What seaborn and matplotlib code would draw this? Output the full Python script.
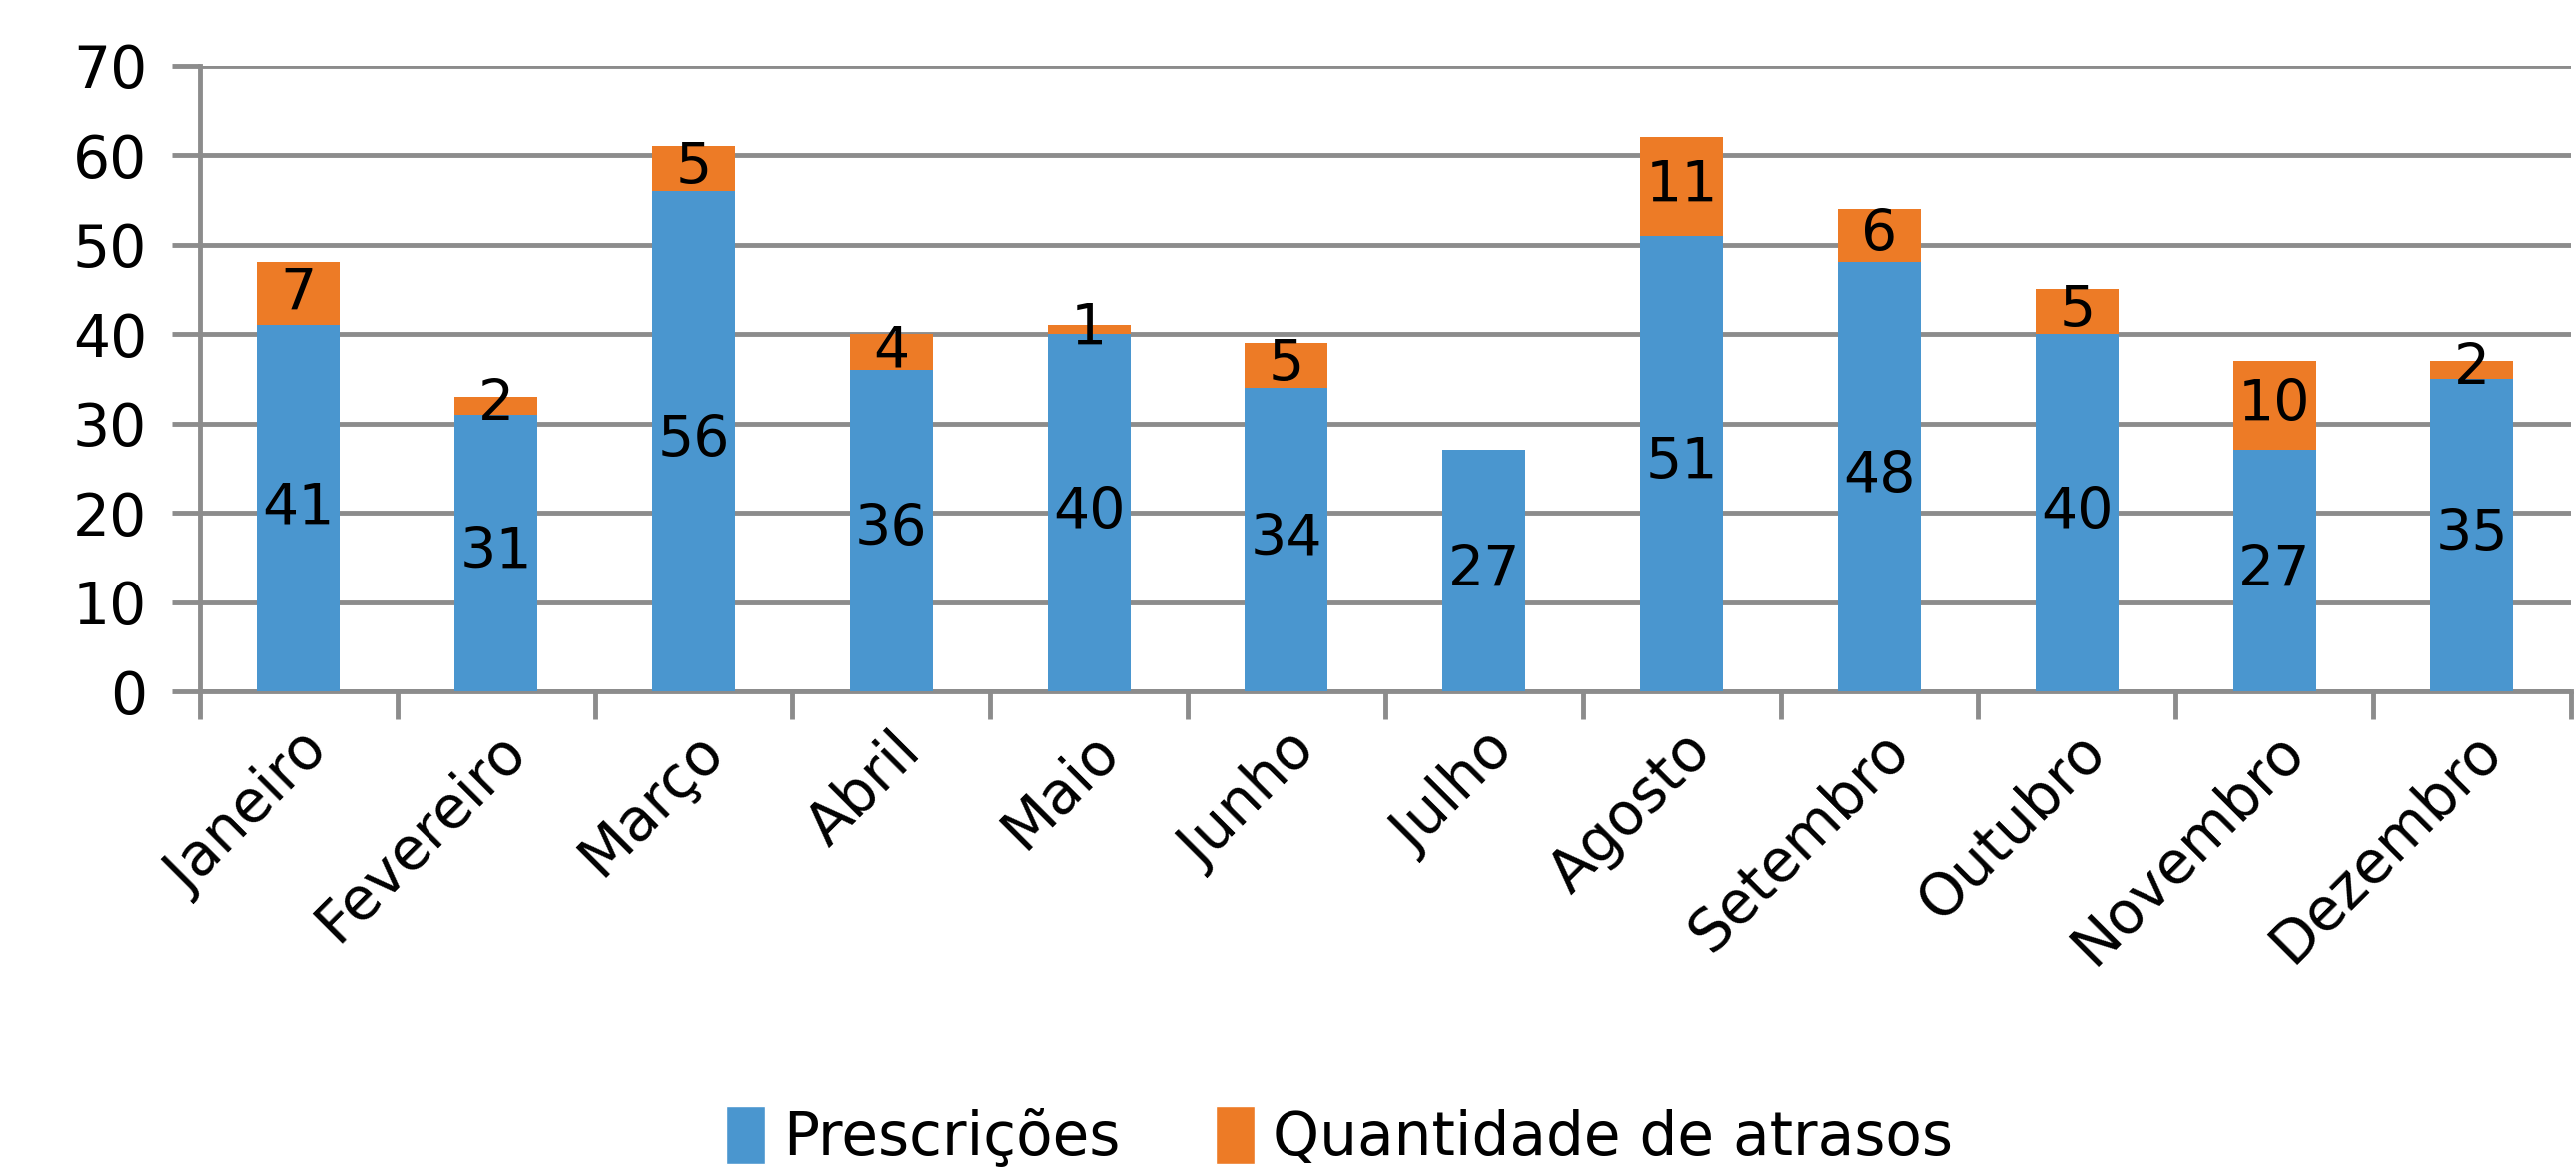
import matplotlib
matplotlib.use("Agg")
import matplotlib.pyplot as plt
import seaborn as sns
import numpy as np
from matplotlib.patches import Patch

# Data
meses = ['Janeiro', 'Fevereiro', 'Março', 'Abril', 'Maio', 'Junho',
         'Julho', 'Agosto', 'Setembro', 'Outubro', 'Novembro', 'Dezembro']
prescricoes = [41, 31, 56, 36, 40, 34, 27, 51, 48, 40, 27, 35]
atrasos = [7, 2, 5, 4, 1, 5, 0, 11, 6, 5, 10, 2]

azul = '#4A96CF'
laranja = '#ED7B26'
cinza = '#8C8C8C'

sns.set_style('white')
plt.rcParams['font.family'] = ['DejaVu Sans']

totais = [p + a for p, a in zip(prescricoes, atrasos)]

fig, ax = plt.subplots(figsize=(25.79, 11.71), dpi=100)
fig.subplots_adjust(left=0.0775, right=0.998, top=0.944, bottom=0.409)

# Stacked bars: total in orange, prescriptions in blue on top
sns.barplot(x=meses, y=totais, color=laranja, width=0.42, saturation=1,
            linewidth=0, ax=ax, zorder=3)
sns.barplot(x=meses, y=prescricoes, color=azul, width=0.42, saturation=1,
            linewidth=0, ax=ax, zorder=4)

# Data labels
fs = 41
for i, (p, a) in enumerate(zip(prescricoes, atrasos)):
    ax.text(i, p / 2, str(p), ha='center', va='center', fontsize=fs, color='black', zorder=5)
    if a > 0:
        ax.text(i, p + a / 2, str(a), ha='center', va='center', fontsize=fs, color='black', zorder=5)

ax.set_ylim(0, 70)
ax.set_xlim(-0.5, len(meses) - 0.5)
ax.set_yticks(np.arange(0, 71, 10))
ax.yaxis.grid(True, color=cinza, linewidth=3.5, zorder=0)
ax.set_axisbelow(True)

for s in ['top', 'right']:
    ax.spines[s].set_visible(False)
for s in ['left', 'bottom']:
    ax.spines[s].set_color(cinza)
    ax.spines[s].set_linewidth(3.5)

# Category boundary ticks on x axis
ax.set_xticks(np.arange(len(meses)))
ax.set_xticklabels(meses, rotation=45, ha='right', rotation_mode='anchor', fontsize=fs + 1)
ax.set_xticks(np.arange(-0.5, len(meses)), minor=True)
ax.tick_params(axis='x', which='major', bottom=False, length=0, pad=22, labelcolor='black')
ax.tick_params(axis='x', which='minor', bottom=True, length=20, width=3.5, color=cinza, direction='out')
ax.tick_params(axis='y', which='major', left=True, length=20, width=3.5, color=cinza,
               labelsize=fs + 1, pad=18, labelcolor='black')
ax.set_xlabel('')
ax.set_ylabel('')

handles = [Patch(facecolor=azul, label='Prescrições'),
           Patch(facecolor=laranja, label='Quantidade de atrasos')]
fig.legend(handles=handles, loc='center', bbox_to_anchor=(0.52, 0.028), ncol=2,
           frameon=False, fontsize=fs + 2, handlelength=0.65, handleheight=1.1,
           handletextpad=0.3, columnspacing=1.6, labelcolor='black')

fig.savefig('out.png', dpi=100)
